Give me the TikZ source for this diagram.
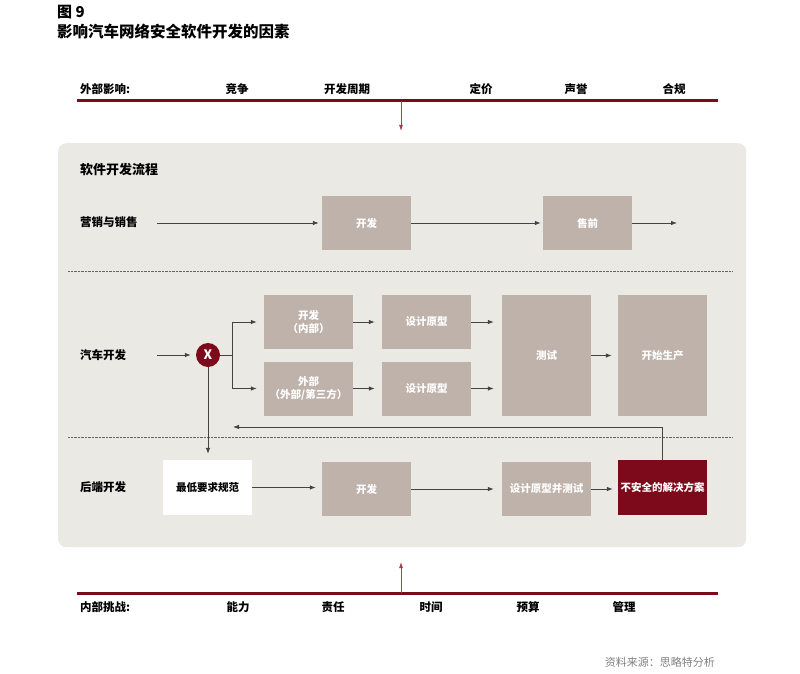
\documentclass[tikz,border=0pt]{standalone}
\usepackage{fontspec}
\setmainfont{Noto Sans CJK SC}
\usetikzlibrary{arrows.meta}
\definecolor{dred}{HTML}{7C0A1A}
\definecolor{lred}{HTML}{A8404F}
\definecolor{panelc}{HTML}{EBE9E3}
\definecolor{boxc}{HTML}{BFB2AA}
\definecolor{linec}{HTML}{444444}
\tikzset{
  graybox/.style={fill=boxc, draw=none, minimum width=89pt, minimum height=54pt, text=white, font=\fontsize{10.5}{13}\selectfont\bfseries, align=center, inner sep=1pt},
  rowlabel/.style={anchor=west, font=\fontsize{11.5}{13}\selectfont\bfseries, inner sep=0pt},
  barlabel/.style={font=\fontsize{11.5}{13}\selectfont\bfseries, inner sep=0pt},
  flow/.style={draw=linec, line width=0.8pt, -{Latex[length=6pt,width=4.5pt]}},
  plainline/.style={draw=linec, line width=0.8pt},
  sep/.style={draw=gray!80!black, line width=0.7pt, dash pattern=on 0.7pt off 0.7pt},
  redbar/.style={draw=dred, line width=3pt},
  redarrow/.style={draw=lred, line width=0.8pt, -{Latex[length=6pt,width=4pt]}}
}
\begin{document}
\begin{tikzpicture}[x=1pt,y=-1pt]
\useasboundingbox (0,0) rectangle (800,674);
% title
\node[anchor=west, inner sep=0pt, font=\fontsize{15}{17}\selectfont\bfseries] (fig) at (57,12) {图 9};
\node[anchor=west, inner sep=0pt, font=\fontsize{15.5}{17}\selectfont\bfseries] (title) at (57,32) {影响汽车网络安全软件开发的因素};
% top bar
\node[barlabel, anchor=west] (ext) at (80,89) {外部影响:};
\node[barlabel] (t1) at (237,89) {竞争};
\node[barlabel] (t2) at (347,89) {开发周期};
\node[barlabel] (t3) at (481,89) {定价};
\node[barlabel] (t4) at (576,89) {声誉};
\node[barlabel] (t5) at (674,89) {合规};
\coordinate (tl) at (77,101); \coordinate (tr) at (718,101);
\draw[redbar] (tl) -- (tr);
\coordinate (ta) at (401,101); \coordinate (tb) at (401,131);
\draw[redarrow] (ta) -- (tb);
% panel
\node[fill=panelc, draw=none, rounded corners=8pt, minimum width=688pt, minimum height=404pt, anchor=north west, inner sep=0pt] (panel) at (58,143) {};
\node[rowlabel, font=\fontsize{13}{15}\selectfont\bfseries] (hdr) at (80,170) {软件开发流程};
% row 1
\node[rowlabel] (r1) at (80,222) {营销与销售};
\node[graybox] (sdev) at (366.5,223) {开发};
\node[graybox] (presale) at (587.5,223) {售前};
\coordinate (r1s) at (157,223);
\coordinate (r1e) at (677,223);
\draw[flow, shorten >=3pt] (r1s) -- (sdev.west);
\draw[flow, shorten >=2pt] (sdev.east) -- (presale.west);
\draw[flow] (presale.east) -- (r1e);
% separator
\coordinate (s1l) at (68,271); \coordinate (s1r) at (732,271);
\draw[sep] (s1l) -- (s1r);
% row 2
\node[rowlabel] (r2) at (80,355) {汽车开发};
\node[circle, fill=dred, minimum size=24pt, inner sep=0pt, text=white, font=\fontsize{13}{15}\selectfont\bfseries] (X) at (208,355) {X};
\coordinate (r2s) at (157,355);
\draw[flow, shorten >=5pt] (r2s) -- (X.west);
\node[graybox] (cdin) at (308.5,322) {开发\\（内部）};
\node[graybox] (cdext) at (308.5,388.5) {外部\\（外部/第三方）};
\node[graybox] (p1) at (426.5,322) {设计原型};
\node[graybox] (p2) at (426.5,388.5) {设计原型};
\node[graybox, minimum height=121pt] (test) at (546.5,355.5) {测试};
\node[graybox, minimum height=121pt] (prod) at (662.5,355.5) {开始生产};
\coordinate (br) at (232,355);
\draw[plainline] (X.east) -- (br);
\draw[flow, shorten >=7pt] (br) |- (cdin.west);
\draw[flow, shorten >=7pt] (br) |- (cdext.west);
\draw[flow, shorten >=7pt] (cdin.east) -- (p1.west);
\draw[flow, shorten >=7pt] (cdext.east) -- (p2.west);
\draw[flow, shorten >=8pt] (p1.east) -- (p1.east -| test.west);
\draw[flow, shorten >=8pt] (p2.east) -- (p2.east -| test.west);
\draw[flow, shorten >=6pt] (test.east) -- (prod.west);
% separator 2
\coordinate (s2l) at (68,437); \coordinate (s2r) at (732,437);
\draw[sep] (s2l) -- (s2r);
% row 3
\node[rowlabel] (r3) at (80,487) {后端开发};
\node[graybox, fill=white, text=black, minimum height=55pt] (spec) at (207.5,487.5) {最低要求规范};
\node[graybox] (bdev) at (366.5,489) {开发};
\node[graybox] (pt) at (546.5,489) {设计原型并测试};
\node[graybox, fill=dred, minimum height=55pt] (insec) at (662.5,487.5) {不安全的解决方案};
\draw[flow, shorten >=6pt] (spec.east) -- (spec.east -| bdev.west);
\draw[flow, shorten >=8pt] (bdev.east) -- (pt.west);
\draw[flow, shorten >=5pt] (pt.east) -- (pt.east -| insec.west);
% X down to spec
\draw[flow, shorten >=6pt] (X.south) -- (X.south |- spec.north);
% feedback
\coordinate (fb) at (233,427);
\draw[flow] (insec.north) |- (fb);
% bottom bar
\coordinate (bl) at (77,593); \coordinate (brr) at (718,593);
\draw[redbar] (bl) -- (brr);
\coordinate (ba) at (401,593); \coordinate (bb) at (401,562);
\draw[redarrow] (ba) -- (bb);
\node[barlabel, anchor=west] (inn) at (80,607) {内部挑战:};
\node[barlabel] (b1) at (238,607) {能力};
\node[barlabel] (b2) at (333,607) {责任};
\node[barlabel] (b3) at (431,607) {时间};
\node[barlabel] (b4) at (528,607) {预算};
\node[barlabel] (b5) at (624,607) {管理};
% source
\node[anchor=east, inner sep=0pt, text=gray, font=\fontsize{11}{13}\selectfont] (src) at (715,662) {资料来源：思略特分析};
\end{tikzpicture}
\end{document}
